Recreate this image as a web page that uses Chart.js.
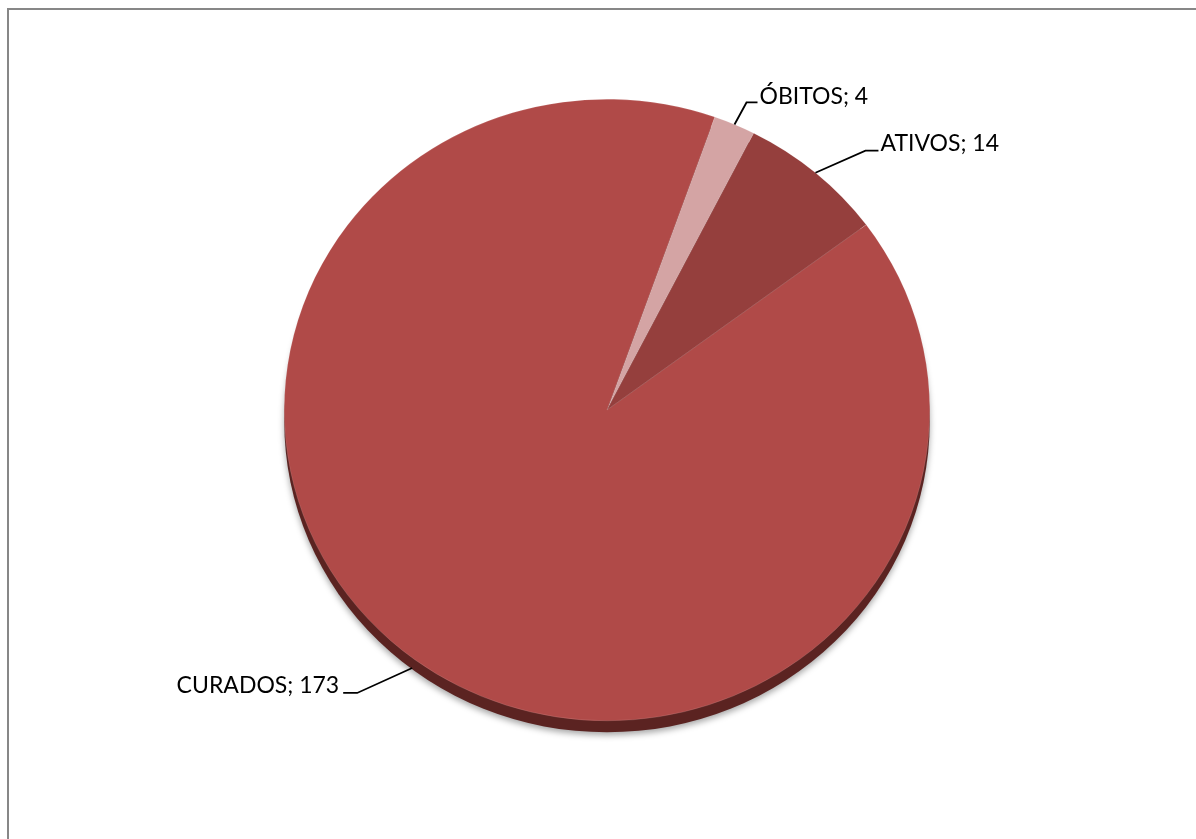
<!DOCTYPE html>
<html>
<head>
<meta charset="utf-8">
<script src="https://cdn.jsdelivr.net/npm/chart.js@4.4.1/dist/chart.umd.min.js"></script>
<style>
html,body{margin:0;padding:0;background:#fff;overflow:hidden;}
#wrap{position:absolute;left:0;top:0;width:1196px;height:839px;}
</style>
</head>
<body>
<div id="wrap"><canvas id="c" width="1196" height="839"></canvas></div>
<script>
const categories = ['ÓBITOS', 'ATIVOS', 'CURADOS'];
const values = [4, 14, 173];
const sliceColors = ['#D4A4A4', '#953F3D', '#B04A48'];

const Y_SCALE = 0.963;
// leader-line styling per slice: [start dx, start dy, elbow dx, elbow dy, horizontal run, text baseline offset]
const leaderStyle = [[0, 0, 12, -22, 11, 2], [0, 0, 50, -22, 13, 0], [-3, 8, -55, 25, -14, 0]];

function ellipseTransform(chart) {
  const ctx = chart.ctx;
  const a = chart.getDatasetMeta(0).data[0];
  ctx.translate(a.x, a.y);
  ctx.scale(1, Y_SCALE);
  ctx.translate(-a.x, -a.y);
}

const framePlugin = {
  id: 'frame',
  beforeDraw(chart) {
    const ctx = chart.ctx;
    ctx.save();
    ctx.fillStyle = '#fff';
    ctx.fillRect(0, 0, chart.width, chart.height);
    ctx.strokeStyle = '#878787';
    ctx.lineWidth = 2;
    ctx.strokeRect(8, 9, 1400, 1000);
    ctx.restore();
  },
  beforeDatasetsDraw(chart) {
    const ctx = chart.ctx;
    const a = chart.getDatasetMeta(0).data[0];
    if (!a) return;
    ctx.save();
    ellipseTransform(chart);
    ctx.shadowColor = 'rgba(0,0,0,0.35)';
    ctx.shadowBlur = 6;
    ctx.shadowOffsetY = 3;
    ctx.fillStyle = '#5B2321';
    ctx.beginPath();
    ctx.arc(a.x, a.y + 12, a.outerRadius, 0, Math.PI * 2);
    ctx.fill();
    ctx.restore();
    ctx.save();
    ellipseTransform(chart);
  },
  afterDatasetsDraw(chart) {
    chart.ctx.restore();
    const ctx = chart.ctx;
    const meta = chart.getDatasetMeta(0);
    ctx.save();
    ctx.strokeStyle = '#000';
    ctx.lineWidth = 1.8;
    ctx.fillStyle = '#000';
    ctx.font = '23px Lato';
    ctx.textBaseline = 'alphabetic';
    meta.data.forEach((arc, i) => {
      const st = leaderStyle[i];
      const mid = (arc.startAngle + arc.endAngle) / 2;
      const sx = arc.x + Math.cos(mid) * arc.outerRadius + st[0];
      const sy = arc.y + Math.sin(mid) * arc.outerRadius * Y_SCALE + st[1];
      const ex = sx + st[2], ey = sy + st[3];
      const hx = ex + st[4];
      ctx.beginPath();
      ctx.moveTo(sx, sy);
      ctx.lineTo(ex, ey);
      ctx.lineTo(hx, ey);
      ctx.stroke();
      const txt = categories[i] + '; ' + values[i];
      if (st[4] >= 0) {
        ctx.textAlign = 'left';
        ctx.fillText(txt, hx + 2, ey + st[5]);
      } else {
        ctx.textAlign = 'right';
        ctx.fillText(txt, hx - 4, ey + st[5]);
      }
    });
    ctx.restore();
  }
};

new Chart(document.getElementById('c'), {
  type: 'pie',
  data: {
    labels: categories,
    datasets: [{
      data: values,
      backgroundColor: sliceColors,
      borderColor: 'rgba(255,255,255,0.25)',
      borderWidth: 0.5
    }]
  },
  options: {
    responsive: false,
    animation: false,
    rotation: 19.5,
    layout: { padding: { left: 284, right: 266, top: 87, bottom: 106 } },
    plugins: { legend: { display: false }, tooltip: { enabled: false } }
  },
  plugins: [framePlugin]
});
</script>
</body>
</html>
